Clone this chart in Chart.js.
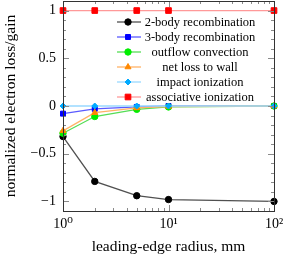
<!DOCTYPE html>
<html>
<head>
<meta charset="utf-8">
<script src="https://cdn.jsdelivr.net/npm/chart.js@4.4.1/dist/chart.umd.min.js"></script>
<style>
  html, body { margin: 0; padding: 0; background: #fff; }
  #c { display: block; }
</style>
</head>
<body>
<canvas id="c" width="290" height="259"></canvas>
<script>
// data
const radius = [1, 2, 5, 10, 100];
const twoBody = [-0.32, -0.79, -0.94, -0.98, -1.0];
const threeBody = [-0.08, -0.03, -0.01, 0, 0];
const outflow = [-0.285, -0.11, -0.035, -0.01, 0];
const wallLoss = [-0.26, -0.07, -0.02, -0.005, 0];
const impactIon = [0, 0, 0, 0, 0];
const assocIon = [1, 1, 1, 1, 1];
const seriesNames = ['2-body recombination', '3-body recombination', 'outflow convection',
  'net loss to wall', 'impact ionization', 'associative ionization'];
const yTicks = [-1, -0.5, 0, 0.5, 1];
const yTickLabels = ['\u22121', '\u22120.5', '0', '0.5', '1'];
const xTicks = [1, 10, 100];
const xTickLabels = ['10\u2070', '10\u00b9', '10\u00b2'];

const SERIF = '"Liberation Serif", "DejaVu Serif", serif';

// marker colour, line colour, marker shape, marker radius
const styles = [
  { point: '#000000', line: '#505050', shape: 'circle', r: 3.2 },
  { point: '#0000ff', line: '#5a5aff', shape: 'rect', r: 3.5 },
  { point: '#00ee00', line: '#55dd55', shape: 'circle', r: 3.2 },
  { point: '#ff8800', line: '#ffb266', shape: 'triangle', r: 3.5 },
  { point: '#00aaff', line: '#99d9ff', shape: 'rectRot', r: 3 },
  { point: '#ff0000', line: '#ff9999', shape: 'rect', r: 4 }
];
const seriesValues = [twoBody, threeBody, outflow, wallLoss, impactIon, assocIon];

const datasets = seriesValues.map((vals, i) => ({
  label: seriesNames[i],
  data: vals.map((v, j) => ({ x: radius[j], y: v })),
  borderColor: styles[i].line,
  backgroundColor: styles[i].point,
  pointBackgroundColor: styles[i].point,
  pointBorderColor: styles[i].point,
  pointStyle: styles[i].shape,
  pointRadius: styles[i].r,
  borderWidth: 1.3,
  pointBorderWidth: 1,
  tension: 0,
  clip: 6,
  order: seriesValues.length - i  // later series on top, like the original
}));

// inward ticks on all four sides + frame
const frameTicks = {
  id: 'frameTicks',
  afterDatasetsDraw(chart) {
    const { ctx, chartArea: a, scales } = chart;
    const xs = scales.x, ys = scales.y;
    ctx.save();
    ctx.strokeStyle = '#8a8a8a';
    ctx.lineWidth = 1;
    const tick = (px, len, horiz) => {
      ctx.beginPath();
      if (horiz) {
        ctx.moveTo(a.left, px); ctx.lineTo(a.left + len, px);
        ctx.moveTo(a.right, px); ctx.lineTo(a.right - len, px);
      } else {
        ctx.moveTo(px, a.bottom); ctx.lineTo(px, a.bottom - len);
        ctx.moveTo(px, a.top); ctx.lineTo(px, a.top + len);
      }
      ctx.stroke();
    };
    for (let k = -11; k <= 11; k++) {
      const v = k / 10;
      const major = k % 5 === 0;
      tick(Math.round(ys.getPixelForValue(v)) + 0.5, major ? 6 : 3, true);
    }
    [1, 10].forEach(dec => {
      for (let m = 1; m <= 10; m++) {
        const v = dec * m;
        const major = m === 1 || m === 10;
        tick(Math.round(xs.getPixelForValue(v)) + 0.5, major ? 6 : 3, false);
      }
    });
    ctx.strokeStyle = '#333';
    ctx.strokeRect(Math.round(a.left) + 0.5, Math.round(a.top) + 0.5,
      Math.round(a.right - a.left), Math.round(a.bottom - a.top));
    ctx.restore();
  }
};

// legend inside the plot, gnuplot style
const insideLegend = {
  id: 'insideLegend',
  afterDraw(chart) {
    const { ctx } = chart;
    const x0 = 117, x1 = 141, xm = 128, xt = 200, y0 = 22, dy = 15;
    ctx.save();
    ctx.font = '12.5px ' + SERIF;
    ctx.textAlign = 'center';
    ctx.textBaseline = 'middle';
    chart.data.datasets.forEach((ds, i) => {
      const y = y0 + i * dy;
      ctx.strokeStyle = ds.borderColor;
      ctx.lineWidth = 1.3;
      ctx.beginPath(); ctx.moveTo(x0, y); ctx.lineTo(x1, y); ctx.stroke();
      ctx.fillStyle = ds.pointBackgroundColor;
      ctx.strokeStyle = ds.pointBorderColor;
      ctx.lineWidth = 1;
      Chart.helpers.drawPoint(ctx, { pointStyle: ds.pointStyle, radius: ds.pointRadius, rotation: 0, borderWidth: 1 }, xm, y);
      ctx.fillStyle = '#000';
      ctx.fillText(ds.label, xt, y + 1);
    });
    ctx.restore();
  }
};

new Chart(document.getElementById('c'), {
  type: 'line',
  data: { datasets },
  options: {
    responsive: false,
    animation: false,
    devicePixelRatio: 1,
    layout: { autoPadding: false, padding: { top: 1, right: 16, left: 0, bottom: 0 } },
    plugins: { legend: { display: false }, tooltip: { enabled: false } },
    scales: {
      x: {
        type: 'logarithmic',
        min: 1, max: 100,
        afterBuildTicks: s => { s.ticks = xTicks.map(v => ({ value: v })); },
        afterFit: s => { s.height = 48; s.paddingLeft = 0; s.paddingRight = 0; },
        grid: { display: false, drawTicks: false },
        border: { display: false },
        ticks: {
          padding: 5,
          color: '#000',
          font: { family: SERIF, size: 14 },
          maxRotation: 0,
          callback: (v) => xTickLabels[xTicks.indexOf(v)]
        },
        title: {
          display: true,
          text: 'leading-edge radius, mm',
          color: '#000',
          font: { family: SERIF, size: 15.5 },
          padding: { top: 0, bottom: 3 }
        }
      },
      y: {
        min: -1.1, max: 1.1,
        afterBuildTicks: s => { s.ticks = yTicks.map(v => ({ value: v })); },
        afterFit: s => { s.width = 63; s.paddingTop = 0; s.paddingBottom = 0; },
        grid: { display: false, drawTicks: false },
        border: { display: false },
        ticks: {
          padding: 7,
          color: '#000',
          font: { family: SERIF, size: 14 },
          callback: (v) => yTickLabels[yTicks.indexOf(v)]
        },
        title: {
          display: true,
          text: 'normalized electron loss/gain',
          color: '#000',
          font: { family: SERIF, size: 15.5 },
          padding: { top: 2, bottom: 0 }
        }
      }
    }
  },
  plugins: [frameTicks, insideLegend]
});
</script>
</body>
</html>
